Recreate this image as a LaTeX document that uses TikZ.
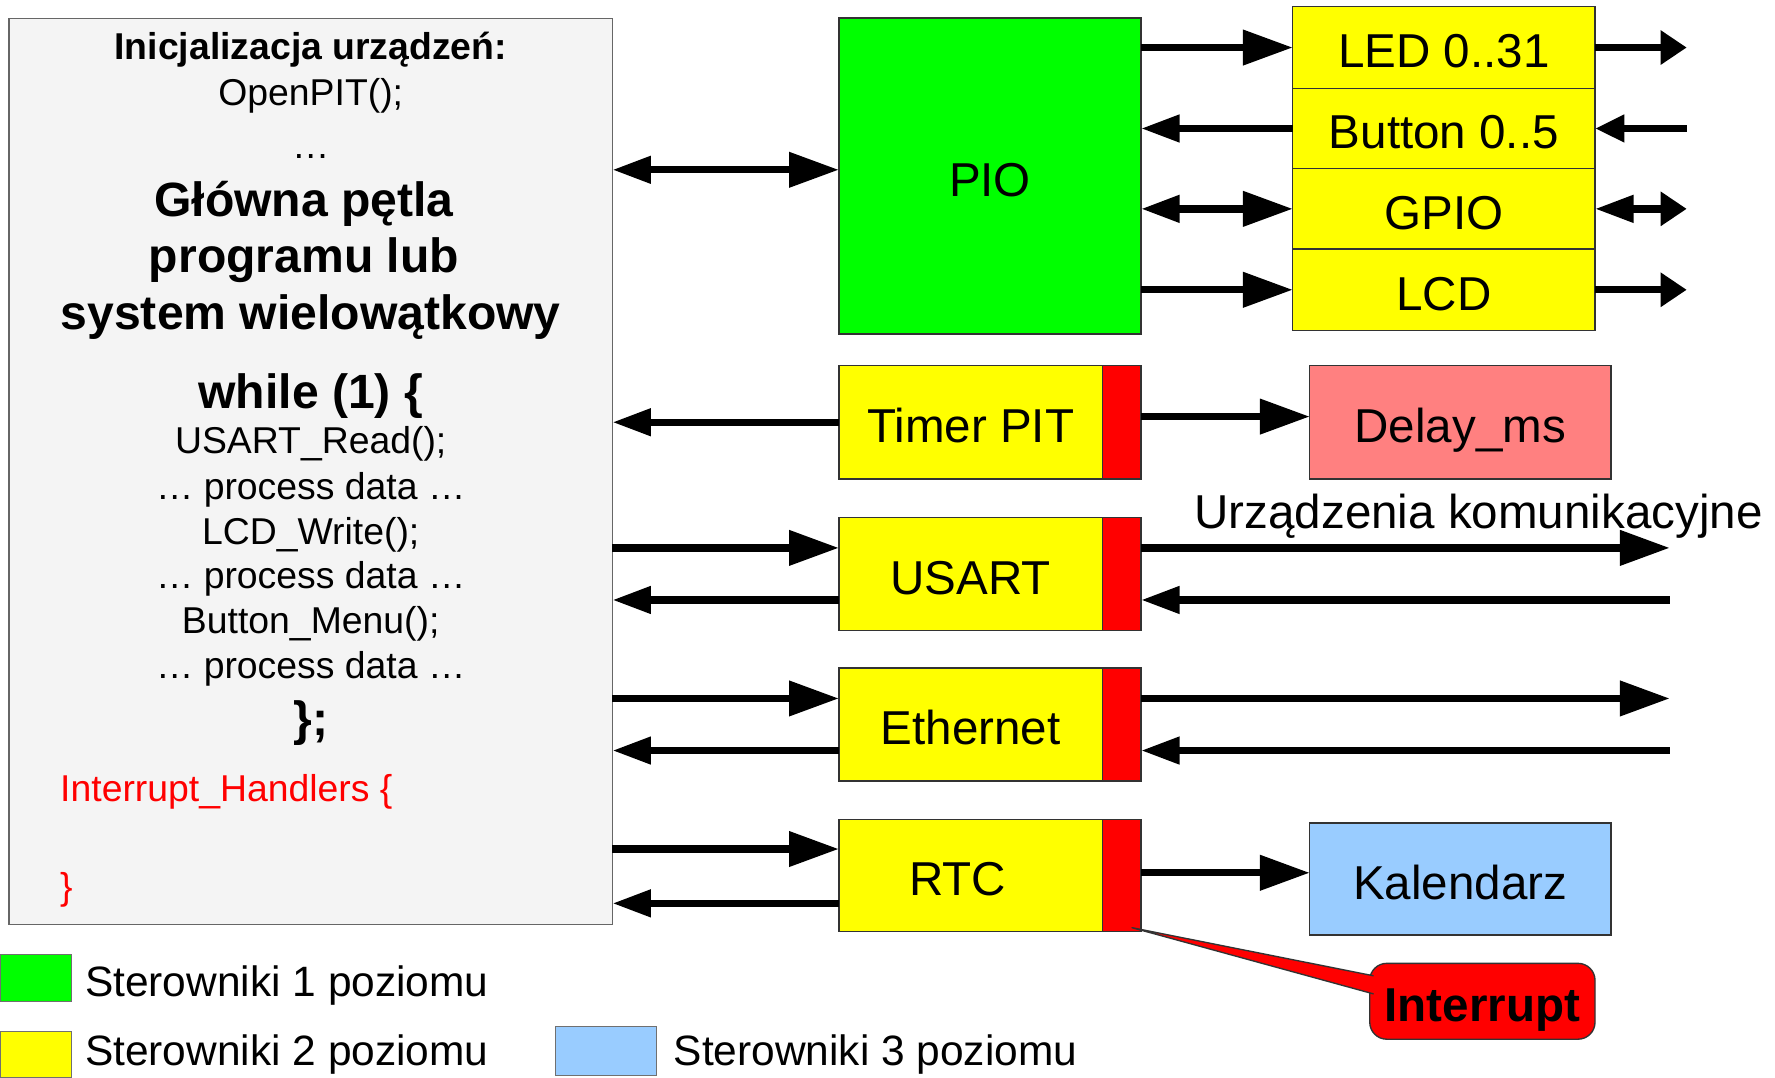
\documentclass[tikz,border=0pt]{standalone}
\usepackage{fontspec}
\setmainfont{Liberation Sans}
\usetikzlibrary{arrows.meta,calc}

\definecolor{ctrlone}{HTML}{00FF00}
\definecolor{ctrltwo}{HTML}{FFFF00}
\definecolor{ctrlthree}{HTML}{99CCFF}
\definecolor{irqred}{HTML}{FF0000}
\definecolor{delaypink}{HTML}{FF8080}
\definecolor{codebg}{HTML}{F4F4F4}
\definecolor{edge}{HTML}{333333}

\newcommand\codefont{\fontsize{33}{38}\selectfont}
\newcommand\headfont{\fontsize{42.5}{49}\selectfont\bfseries}
\newcommand\blockfont{\fontsize{42}{48}\selectfont}
\newcommand\legendfont{\fontsize{37.5}{42}\selectfont}

\tikzset{
  blocktext/.style={font=\blockfont, text height=36pt, text depth=0pt},
  blk/.style={draw=edge, line width=1.2pt, inner sep=0pt, outer sep=0pt, blocktext},
  lvltwo/.style={blk, fill=ctrltwo, minimum width=233pt, minimum height=100pt},
  stackbox/.style={blk, fill=ctrltwo, minimum width=267pt},
  irqstrip/.style={blk, fill=irqred, minimum width=34pt, minimum height=100pt},
  codeline/.style={inner sep=0pt, anchor=base, font=\codefont},
  headline/.style={inner sep=0pt, anchor=base, font=\headfont},
  redline/.style={inner sep=0pt, anchor=base west, font=\codefont, text=irqred},
  legendtext/.style={inner sep=0pt, anchor=base west, font=\legendfont},
  legendbox/.style={draw=edge!70, line width=1pt, inner sep=0pt, outer sep=0pt},
  arr/.style={line width=6.5pt, draw=black},
  bigtip/.tip={Triangle[length=44pt,width=30pt]},
  midtip/.tip={Triangle[length=34pt,width=23pt]},
  smalltip/.tip={Triangle[length=23pt,width=29pt]},
  shorttip/.tip={Triangle[length=26pt,width=23pt]},
}

\begin{document}
\begin{tikzpicture}[x=1pt, y=-1pt]
\useasboundingbox (0,0) rectangle (1568,952);

% program listing
\node[draw=black!60, fill=codebg, line width=1pt, minimum width=533pt,
      minimum height=801pt, inner sep=0pt, outer sep=0pt] (code) at (274.5,416.5) {};
\node[codeline, font=\codefont\bfseries] (t1) at (274.5,53) {Inicjalizacja urządzeń:};
\node[codeline] (t2) at (274.5,93) {OpenPIT();};
\node[codeline] (t3) at (274.5,140) {…};
\node[headline] (t4) at (268.5,191) {Główna pętla};
\node[headline] (t5) at (268.5,241) {programu lub};
\node[headline] (t6) at (274.5,291) {system wielowątkowy};
\node[headline] (t7) at (274.5,361) {while (1) \{};
\node[codeline] (t8) at (274.5,401) {USART\_Read();};
\node[codeline] (t9) at (274.5,441) {… process data …};
\node[codeline] (t10) at (274.5,481) {LCD\_Write();};
\node[codeline] (t11) at (274.5,520) {… process data …};
\node[codeline] (t12) at (274.5,560) {Button\_Menu();};
\node[codeline] (t13) at (274.5,599) {… process data …};
\node[headline] (t14) at (274.5,650) {\};};
\node[redline] (t15) at (53,708) {Interrupt\_Handlers \{};
\node[redline] (t16) at (53,795) {\}};

% level 1: PIO and its pins
\node[blk, fill=ctrlone, minimum width=267pt, minimum height=279pt] (pio) at (874.5,155.5) {PIO};
\node[stackbox, minimum height=72pt] (led) at (1275.5,42) {LED 0..31};
\node[stackbox, minimum height=71pt] (btn) at (1275.5,113.5) {Button 0..5};
\node[stackbox, minimum height=71pt] (gpio) at (1275.5,184.5) {GPIO};
\node[stackbox, minimum height=72pt] (lcd) at (1275.5,256) {LCD};

% level 2 drivers with interrupt strips
\node[lvltwo] (timer) at (857.5,373) {Timer PIT};
\node[irqstrip] (timerirq) at (991,373) {};
\node[blk, fill=delaypink, minimum width=266pt, minimum height=100pt] (delay) at (1290,373) {Delay\_ms};

\node[lvltwo] (usart) at (857.5,507) {USART};
\node[irqstrip] (usartirq) at (991,507) {};

\node[lvltwo] (eth) at (857.5,640) {Ethernet};
\node[irqstrip] (ethirq) at (991,640) {};

\node[lvltwo, minimum height=99pt] (rtc) at (857.5,773.5) {};
\node[inner sep=0pt, blocktext] (rtclabel) at (846,773.5) {RTC};
\node[irqstrip, minimum height=99pt] (rtcirq) at (991,773.5) {};
\node[blk, fill=ctrlthree, minimum width=266pt, minimum height=99pt] (kal) at (1290,776.5) {Kalendarz};

\node[inner sep=0pt, anchor=base west, font=\blockfont] (comm) at (1055,467) {Urządzenia komunikacyjne};

% free ends of the outside lines
\coordinate (ledout) at (1490,42);
\coordinate (btnin) at (1490,113.5);
\coordinate (gpioout) at (1490,184.5);
\coordinate (lcdout) at (1490,256);
\coordinate (usartout) at (1475,484);
\coordinate (usartin) at (1475,530);
\coordinate (ethout) at (1475,617);
\coordinate (ethin) at (1475,663);

% shifted attachment points
\coordinate (pioin) at ($(pio.west)+(0,-5.5)$);
\coordinate (usartrx) at ($(usart.west)+(0,-23)$);
\coordinate (usarttx) at ($(usart.west)+(0,23)$);
\coordinate (ethrx) at ($(eth.west)+(0,-23)$);
\coordinate (ethtx) at ($(eth.west)+(0,23)$);
\coordinate (rtcrx) at ($(rtc.west)+(0,-23.5)$);
\coordinate (rtctx) at ($(rtc.west)+(0,24.5)$);
\coordinate (delayin) at ($(delay.west)+(0,-5)$);
\coordinate (kalin) at ($(kal.west)+(0,-5.5)$);

% PIO connections
\draw[arr, midtip-bigtip] (code.east |- pioin) -- (pioin);
\draw[arr, -bigtip] (pio.east |- led.west) -- (led.west);
\draw[arr, -smalltip] (led.east) -- (ledout);
\draw[arr, -midtip] (btn.west) -- (pio.east |- btn.west);
\draw[arr, -shorttip] (btnin) -- (btn.east);
\draw[arr, midtip-bigtip] (pio.east |- gpio.west) -- (gpio.west);
\draw[arr, midtip-smalltip] (gpio.east) -- (gpioout);
\draw[arr, -bigtip] (pio.east |- lcd.west) -- (lcd.west);
\draw[arr, -smalltip] (lcd.east) -- (lcdout);

% timer
\draw[arr, -midtip] (timer.west) -- (code.east |- timer.west);
\draw[arr, -bigtip] (timerirq.east |- delayin) -- (delayin);

% USART
\draw[arr, -bigtip] (code.east |- usartrx) -- (usartrx);
\draw[arr, -midtip] (usarttx) -- (code.east |- usarttx);
\draw[arr, -bigtip] (usartirq.east |- usartout) -- (usartout);
\draw[arr, -midtip] (usartin) -- (usartirq.east |- usartin);

% Ethernet
\draw[arr, -bigtip] (code.east |- ethrx) -- (ethrx);
\draw[arr, -midtip] (ethtx) -- (code.east |- ethtx);
\draw[arr, -bigtip] (ethirq.east |- ethout) -- (ethout);
\draw[arr, -midtip] (ethin) -- (ethirq.east |- ethin);

% RTC
\draw[arr, -bigtip] (code.east |- rtcrx) -- (rtcrx);
\draw[arr, -midtip] (rtctx) -- (code.east |- rtctx);
\draw[arr, -bigtip] (rtcirq.east |- kalin) -- (kalin);

% interrupt callout
\node[draw=edge, line width=1.2pt, fill=irqred, rounded corners=15pt,
      minimum width=199pt, minimum height=67pt, inner sep=0pt,
      blocktext, font=\blockfont\bfseries] (irq) at (1309.5,884.5) {Interrupt};
\coordinate (irqtip) at ($(rtcirq.south east)+(-8,-3.5)$);
\coordinate (irqa) at ($(irq.west)+(4,-22.5)$);
\coordinate (irqb) at ($(irq.west)+(4,-6.5)$);
\fill[irqred] (irqtip) -- (irqa) -- (irqb) -- cycle;
\draw[edge, line width=1.2pt, line join=round] (irqa) -- (irqtip) -- (irqb);

% legend
\node[legendbox, fill=ctrlone, minimum width=63pt, minimum height=42pt] (lg1) at (31.5,864) {};
\node[legendtext] (lt1) at (75,880) {Sterowniki 1 poziomu};
\node[legendbox, fill=ctrltwo, minimum width=63pt, minimum height=41pt] (lg2) at (31.5,931.5) {};
\node[legendtext] (lt2) at (75,941) {Sterowniki 2 poziomu};
\node[legendbox, fill=ctrlthree, minimum width=89pt, minimum height=43pt] (lg3) at (535.5,928.5) {};
\node[legendtext] (lt3) at (595,941) {Sterowniki 3 poziomu};
\end{tikzpicture}
\end{document}
